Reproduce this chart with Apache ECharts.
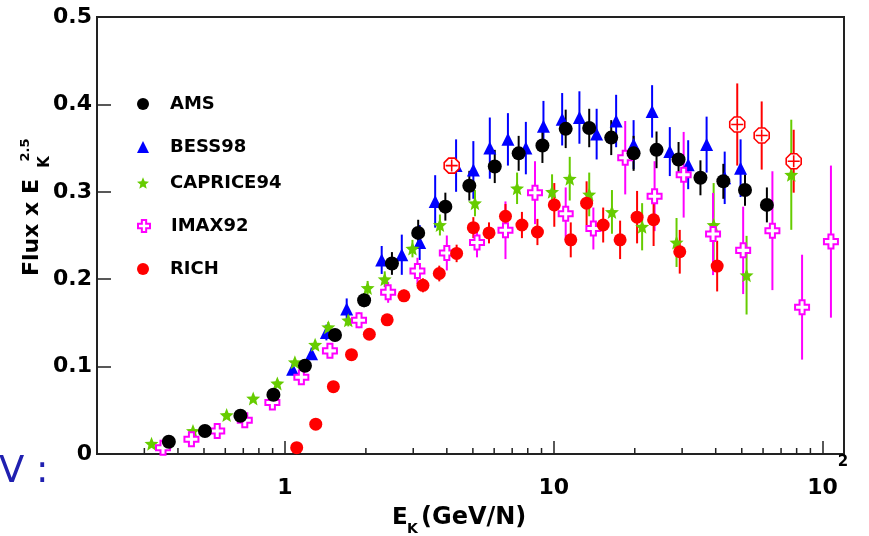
<!DOCTYPE html>
<html><head><meta charset="utf-8">
<script src="https://cdn.jsdelivr.net/npm/echarts@6/dist/echarts.min.js"></script>
<style>html,body{margin:0;padding:0;background:#fff}#c{width:869px;height:536px}</style>
</head><body><div id="c"></div>
<script>
// ---- tick data ----
const xTickMinor = [0.3,0.4,0.5,0.6,0.7,0.8,0.9,2,3,4,5,6,7,8,9,20,30,40,50,60,70,80,90];
const yMin = 0, yMax = 0.5, yStep = 0.1;
const xMin = 0.2, xMax = 120;

// ---- series data ----
const amsE = [0.370,0.504,0.683,0.906,1.187,1.535,1.97,2.50,3.13,3.95,4.85,6.03,7.40,9.07,11.07,13.54,16.35,19.8,24.1,29.1,35.1,42.7,51.4,62.0];
const amsV = [0.014,0.0264,0.0437,0.0678,0.101,0.1362,0.176,0.218,0.253,0.283,0.307,0.329,0.344,0.353,0.372,0.373,0.362,0.344,0.348,0.337,0.316,0.312,0.302,0.285];
const amsErr = [0.001,0.001,0.002,0.003,0.005,0.006,0.008,0.013,0.015,0.016,0.017,0.019,0.02,0.02,0.022,0.022,0.02,0.02,0.021,0.02,0.02,0.02,0.018,0.02];

const bessE = [1.068,1.256,1.426,1.697,2.29,2.72,3.17,3.62,4.33,5.02,5.78,6.75,7.87,9.15,10.74,12.45,14.43,17.05,19.8,23.2,27.0,31.6,37.0,43.2,49.5];
const bessV = [0.097,0.1146,0.139,0.166,0.222,0.228,0.242,0.289,0.33,0.325,0.35,0.36,0.35,0.375,0.383,0.385,0.366,0.381,0.354,0.392,0.346,0.331,0.354,0.316,0.327];
const bessErr = [0.006,0.007,0.009,0.012,0.016,0.023,0.02,0.03,0.03,0.033,0.035,0.03,0.03,0.029,0.03,0.03,0.029,0.03,0.028,0.03,0.028,0.028,0.032,0.03,0.033];

const capE = [0.319,0.455,0.607,0.762,0.937,1.089,1.295,1.45,1.72,2.03,2.35,2.98,3.77,5.09,7.30,9.85,11.46,13.54,16.45,21.3,28.6,39.3,52.1,76.4];
const capV = [0.0118,0.0264,0.0445,0.0636,0.0808,0.105,0.125,0.145,0.153,0.19,0.2,0.235,0.262,0.287,0.304,0.3,0.315,0.297,0.277,0.26,0.242,0.262,0.2046,0.3195];
const capErr = [0.001,0.001,0.002,0.002,0.003,0.004,0.005,0.006,0.007,0.008,0.009,0.01,0.012,0.015,0.018,0.02,0.025,0.025,0.025,0.027,0.028,0.048,0.045,0.063];

const imaxE = [0.352,0.449,0.560,0.709,0.898,1.151,1.47,1.886,2.42,3.11,4.0,5.18,6.61,8.51,11.07,14.03,18.43,23.7,30.4,39.1,50.6,65.0,83.8,107.3];
const imaxV = [0.0072,0.0169,0.0264,0.0387,0.059,0.0877,0.118,0.153,0.185,0.2095,0.23,0.242,0.256,0.299,0.275,0.258,0.339,0.295,0.3195,0.2517,0.233,0.2555,0.168,0.243];
const imaxErr = [0.001,0.001,0.002,0.003,0.004,0.006,0.007,0.009,0.012,0.015,0.02,0.017,0.033,0.036,0.03,0.024,0.042,0.04,0.049,0.047,0.05,0.068,0.06,0.087];

const richE = [1.106,1.302,1.514,1.768,2.06,2.40,2.77,3.26,3.75,4.35,5.02,5.74,6.61,7.61,8.69,10.04,11.56,13.24,15.26,17.64,20.4,23.5,29.4,40.5];
const richV = [0.0072,0.0341,0.077,0.1136,0.137,0.1535,0.181,0.193,0.2065,0.2295,0.259,0.253,0.272,0.262,0.254,0.285,0.245,0.287,0.262,0.245,0.271,0.268,0.2314,0.215];
const richErr = [0.001,0.002,0.003,0.004,0.005,0.006,0.007,0.008,0.009,0.01,0.012,0.012,0.014,0.015,0.015,0.025,0.02,0.025,0.02,0.022,0.03,0.03,0.025,0.029];

const richOpenE = [4.17,48.1,59.3,78.0];
const richOpenV = [0.33,0.377,0.3644,0.335];
const richOpenErr = [0,0.047,0.039,0.036];

const F = 'DejaVu Sans';
const C_AMS = '#000000', C_BESS = '#0000ff', C_CAP = '#66cc00', C_IMAX = '#ff00ff', C_RICH = '#ff0000';

const STAR = 'path://M5 0 L6.293 3.22 L9.755 3.455 L7.092 5.68 L7.939 9.045 L5 7.2 L2.061 9.045 L2.908 5.68 L0.245 3.455 L3.707 3.22 Z';
const OPENCROSS = 'path://M3.2 0 L6.8 0 L6.8 3.2 L10 3.2 L10 6.8 L6.8 6.8 L6.8 10 L3.2 10 L3.2 6.8 L0 6.8 L0 3.2 L3.2 3.2 Z';
const OPENCIRCLECROSS = 'path://M3 0 L7 0 L10 3 L10 7 L7 10 L3 10 L0 7 L0 3 Z M5 1 L5 9 M1 5 L9 5';

function pts(E, V) { return E.map((e, i) => [e, V[i]]); }
function errs(E, V, D) { return E.map((e, i) => [e, V[i] - D[i], V[i] + D[i]]); }

function errSeries(E, V, D, color) {
  return {
    type: 'custom', silent: true, z: 2, animation: false,
    data: errs(E, V, D),
    encode: { x: 0, y: [1, 2] },
    renderItem: function (params, api) {
      const x = api.value(0);
      const p1 = api.coord([x, api.value(1)]);
      const p2 = api.coord([x, api.value(2)]);
      return { type: 'line', shape: { x1: p1[0], y1: p1[1], x2: p2[0], y2: p2[1] },
               style: { stroke: color, lineWidth: 2 } };
    }
  };
}

function scatter(name, E, V, symbol, size, itemStyle, z) {
  itemStyle.opacity = 1;
  return { name: name, type: 'scatter', data: pts(E, V), symbol: symbol, symbolSize: size,
           itemStyle: itemStyle, z: z, animation: false, emphasis: { disabled: true } };
}

function legendAt(name, cy) {
  return { data: [name], orient: 'vertical', left: 137, top: cy - 10, padding: 0,
           itemWidth: 12, itemHeight: 12, selectedMode: false,
           formatter: function (n) { return '{t|' + n + '}'; },
           textStyle: { fontFamily: F, fontWeight: 'bold', fontSize: 18, color: '#000',
                        rich: { t: { fontFamily: F, fontWeight: 'bold', fontSize: 18, color: '#000', padding: [0, 0, 0, 16] } } } };
}

const chart = echarts.init(document.getElementById('c'), null, { renderer: 'canvas' });
const option = {
  backgroundColor: '#fff',
  animation: false,
  grid: { left: 97, right: 25, top: 17, bottom: 82, show: true, borderColor: '#222', borderWidth: 2, backgroundColor: 'transparent' },
  legend: [
    legendAt('AMS', 105),
    legendAt('BESS98', 148),
    legendAt('CAPRICE94', 184),
    legendAt('IMAX92', 227),
    legendAt('RICH', 270)
  ],
  xAxis: {
    type: 'log', logBase: 10, min: xMin, max: xMax,
    axisLine: { show: true, lineStyle: { color: '#222', width: 2 } },
    axisTick: { show: true, inside: true, length: 13, lineStyle: { color: '#222', width: 1.5 } },
    splitLine: { show: false },
    axisLabel: {
      showMinLabel: false, showMaxLabel: false, margin: 1,
      formatter: function (v) {
        if (Math.abs(v - 1) < 1e-6) return '{n|1}';
        if (Math.abs(v - 10) < 1e-6) return '{n|10}';
        if (Math.abs(v - 100) < 1e-6) return '{p|10}{s|2}';
        return '';
      },
      rich: {
        n: { fontFamily: F, fontWeight: 'bold', fontSize: 22, lineHeight: 66, color: '#000' },
        p: { fontFamily: F, fontWeight: 'bold', fontSize: 22, lineHeight: 66, color: '#000', padding: [0, 0, 0, 10] },
        s: { fontFamily: F, fontWeight: 'bold', fontSize: 15, lineHeight: 15, color: '#000', verticalAlign: 'top' }
      }
    }
  },
  yAxis: {
    type: 'value', min: yMin, max: yMax, interval: yStep,
    axisLine: { show: true, lineStyle: { color: '#222', width: 2 } },
    axisTick: { show: true, inside: true, length: 14, lineStyle: { color: '#222', width: 1.5 } },
    splitLine: { show: false },
    axisLabel: {
      margin: 5, fontFamily: F, fontWeight: 'bold', fontSize: 22, color: '#000',
      formatter: function (v) { return v === 0 ? '0' : v.toFixed(1); }
    }
  },
  graphic: [
    { type: 'text', x: 32, y: 276, rotation: Math.PI / 2,
      style: { text: 'Flux x E', fontFamily: F, fontWeight: 'bold', fontSize: 22, fill: '#000', align: 'left', verticalAlign: 'middle' } },
    { type: 'text', x: 45, y: 162, rotation: Math.PI / 2,
      style: { text: 'K', fontFamily: F, fontWeight: 'bold', fontSize: 15, fill: '#000', align: 'center', verticalAlign: 'middle' } },
    { type: 'text', x: 26, y: 150, rotation: Math.PI / 2,
      style: { text: '2.5', fontFamily: F, fontWeight: 'bold', fontSize: 13, fill: '#000', align: 'center', verticalAlign: 'middle' } },
    { type: 'text', x: 392, y: 518,
      style: { text: 'E', fontFamily: F, fontWeight: 'bold', fontSize: 23, fill: '#000', align: 'left', verticalAlign: 'middle' } },
    { type: 'text', x: 407, y: 529,
      style: { text: 'K', fontFamily: F, fontWeight: 'bold', fontSize: 14, fill: '#000', align: 'left', verticalAlign: 'middle' } },
    { type: 'text', x: 421, y: 518,
      style: { text: '(GeV/N)', fontFamily: F, fontWeight: 'bold', fontSize: 24, fill: '#000', align: 'left', verticalAlign: 'middle' } },
    { type: 'text', x: -1, y: 472,
      style: { text: 'V :', fontFamily: F, fontSize: 37, fill: '#2020b0', align: 'left', verticalAlign: 'middle' } }
  ],
  series: [
    {
      type: 'custom', silent: true, z: 20, animation: false,
      data: xTickMinor.map(v => [v, yMin]),
      encode: { x: 0, y: 1 },
      renderItem: function (params, api) {
        const p = api.coord([api.value(0), api.value(1)]);
        return { type: 'line', shape: { x1: p[0], y1: p[1], x2: p[0], y2: p[1] - 6 },
                 style: { stroke: '#222', lineWidth: 1.5 } };
      }
    },
    errSeries(bessE, bessV, bessErr, C_BESS),
    errSeries(capE, capV, capErr, C_CAP),
    errSeries(imaxE, imaxV, imaxErr, C_IMAX),
    errSeries(richE, richV, richErr, C_RICH),
    errSeries(richOpenE, richOpenV, richOpenErr, C_RICH),
    errSeries(amsE, amsV, amsErr, C_AMS),
    scatter('BESS98', bessE, bessV, 'triangle', 13, { color: C_BESS }, 5),
    scatter('CAPRICE94', capE, capV, STAR, 14, { color: C_CAP }, 6),
    scatter('IMAX92', imaxE, imaxV, OPENCROSS, 14, { color: '#fff', borderColor: C_IMAX, borderWidth: 2 }, 7),
    scatter('RICH', richE, richV, 'circle', 13, { color: C_RICH }, 8),
    scatter('RICH-open', richOpenE, richOpenV, OPENCIRCLECROSS, 15, { color: '#fff', borderColor: C_RICH, borderWidth: 1.6 }, 8),
    scatter('AMS', amsE, amsV, 'circle', 14, { color: C_AMS }, 9)
  ]
};
chart.setOption(option);
</script>
</body></html>
